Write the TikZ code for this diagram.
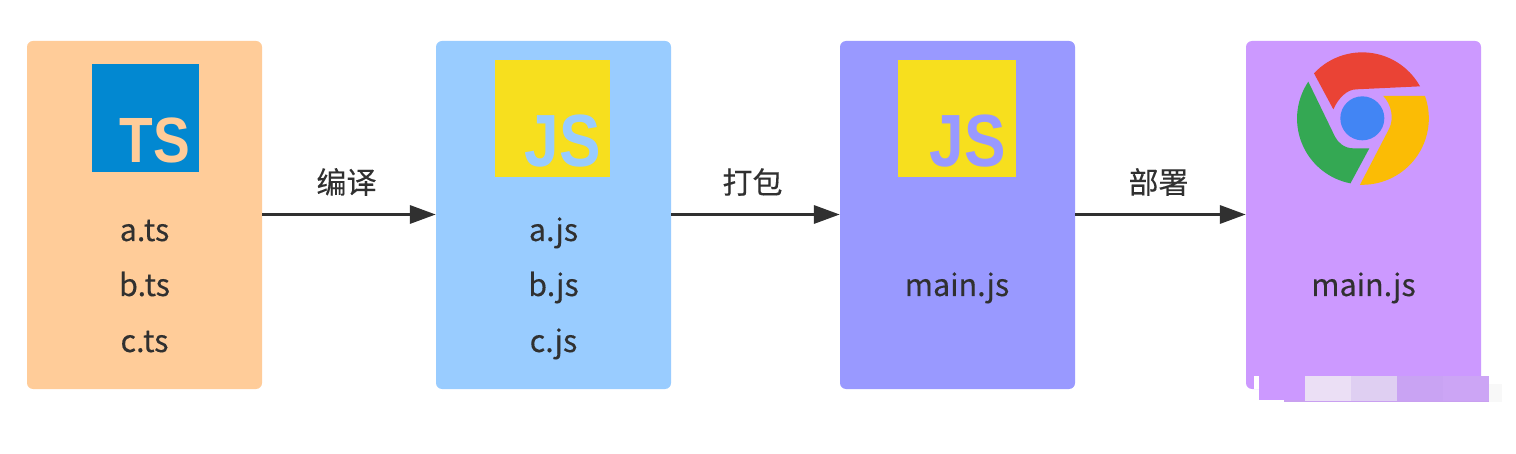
\documentclass[tikz,border=0pt]{standalone}
\usepackage{fontspec}
\setmainfont{Noto Sans CJK SC}
\newfontfamily\logofont{Liberation Sans}
\usetikzlibrary{arrows.meta}
\definecolor{ink}{HTML}{303030}
\definecolor{boxA}{HTML}{FFCC99}
\definecolor{boxB}{HTML}{99CCFF}
\definecolor{boxC}{HTML}{9999FF}
\definecolor{boxD}{HTML}{CC99FF}
\definecolor{tsblue}{HTML}{0288D1}
\definecolor{jsyellow}{HTML}{F7DF1E}
\definecolor{chromered}{HTML}{EA4335}
\definecolor{chromegreen}{HTML}{34A853}
\definecolor{chromeyellow}{HTML}{FBBC05}
\definecolor{chromeblue}{HTML}{4285F4}
\definecolor{wmA}{HTML}{C9A0F0}
\definecolor{wmB}{HTML}{EBDFF5}
\definecolor{wmC}{HTML}{DFCFF2}
\definecolor{wmD}{HTML}{C9A3F3}
\definecolor{wmE}{HTML}{CCA5F5}
\definecolor{wmF}{HTML}{F8F8F8}
\tikzset{
  panel/.style={inner sep=0pt,rounded corners=6pt,minimum height=348pt,minimum width=235pt},
  logo/.style={inner sep=0pt},
  fname/.style={inner sep=0pt,anchor=base,text=ink,font=\addfontfeature{FakeBold=0.25}\fontsize{30.5}{34}\selectfont},
  cname/.style={inner sep=0pt,text=ink,font=\addfontfeature{FakeBold=0.25}\fontsize{30}{34}\selectfont},
  flow/.style={draw=ink,line width=3.4pt,-{Triangle[length=26pt,width=18pt]}},
  tstext/.style={inner sep=0pt,font=\logofont\bfseries\fontsize{64}{64}\selectfont},
  jstext/.style={inner sep=0pt,font=\logofont\bfseries\fontsize{74}{74}\selectfont}
}
\begin{document}
\begin{tikzpicture}[x=1pt,y=-1pt]
\useasboundingbox (0,0) rectangle (1516,454);
\fill[white] (0,0) rectangle (1516,454);
\node[panel,fill=boxA] (pa) at (144.5,215) {};
\node[panel,fill=boxB] (pb) at (553.5,215) {};
\node[panel,fill=boxC] (pc) at (957.5,215) {};
\node[panel,fill=boxD] (pd) at (1363.5,215) {};
% logos
\node[logo,fill=tsblue,minimum width=107pt,minimum height=108pt] (ts) at (145.5,118) {};
\node[tstext,text=boxA,anchor=base east,xscale=.86] (tst) at (190,163) {TS};
\node[logo,fill=jsyellow,minimum width=115pt,minimum height=117pt] (js1) at (552.5,118.5) {};
\node[jstext,text=boxB,anchor=base east,xscale=.84] (jst1) at (601,167) {JS};
\node[logo,fill=jsyellow,minimum width=118pt,minimum height=117pt] (js2) at (957,118.5) {};
\node[jstext,text=boxC,anchor=base east,xscale=.84] (jst2) at (1006,167) {JS};
% chrome logo
\begin{scope}[shift={(1240,30)},x=.3333pt,y=-.3333pt]
\fill[chromered]
  (222,130) arc[start angle=-137,end angle=-29,x radius=66pt,y radius=-66pt]
  -- (350,178) .. controls (320,178) and (295,205) .. (280,238) -- cycle;
\fill[chromeyellow]
  (555,198) arc[start angle=-19.6,end angle=92,x radius=66.5pt,y radius=-66.5pt]
  -- (448,295) .. controls (462,265) and (455,225) .. (430,198) -- cycle;
\fill[chromegreen]
  (205,155) arc[start angle=214,end angle=101,x radius=66pt,y radius=-66pt]
  -- (388,355) -- (340,355) .. controls (315,355) and (295,340) .. (285,320) -- cycle;
\fill[chromeblue] (367,265) circle[radius=22pt];
\end{scope}
% file names
\node[fname] (f1) at (144.5,241) {a.ts};
\node[fname] (f2) at (144.5,296) {b.ts};
\node[fname] (f3) at (144.5,352) {c.ts};
\node[fname] (g1) at (553.5,241) {a.js};
\node[fname] (g2) at (553.5,296) {b.js};
\node[fname] (g3) at (553.5,352) {c.js};
\node[fname] (m1) at (957,296) {main.js};
\node[fname] (m2) at (1363.5,296) {main.js};
% connectors
\coordinate (s1) at (0,214.5);
\draw[flow] (pa.east |- s1) -- (pb.west |- s1);
\draw[flow] (pb.east |- s1) -- (pc.west |- s1);
\draw[flow] (pc.east |- s1) -- (pd.west |- s1);
\node[cname] (l1) at (346.5,182) {编译};
\node[cname] (l2) at (752.5,182) {打包};
\node[cname] (l3) at (1158.5,182) {部署};
% watermark remains
\fill[white] (1254,376) rectangle (1259,389);
\fill[boxD] (1259,376) rectangle (1305,400);
\fill[wmA] (1284,400) rectangle (1489,402);
\fill[wmB] (1305,376) rectangle (1351,401);
\fill[wmC] (1351,376) rectangle (1397,401);
\fill[wmD] (1397,376) rectangle (1443,401);
\fill[wmE] (1443,376) rectangle (1489,401);
\fill[wmF] (1489,384) rectangle (1502,402);
\end{tikzpicture}
\end{document}
